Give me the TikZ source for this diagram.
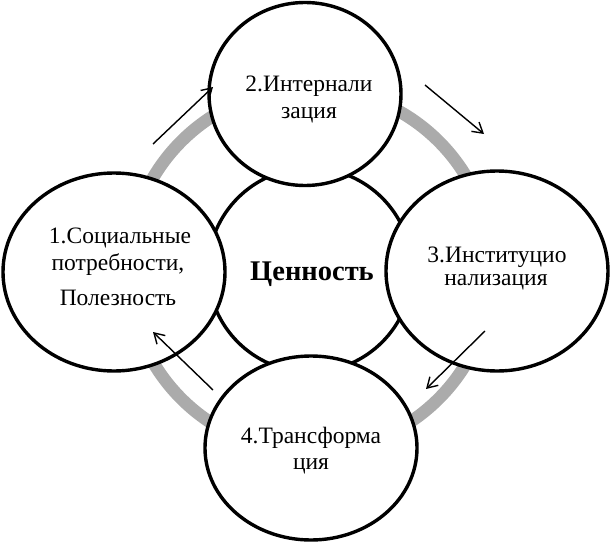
\documentclass[tikz,border=0pt]{standalone}
\usepackage{fontspec}
\setmainfont{Liberation Serif}
\usetikzlibrary{shapes.geometric,arrows.meta}
\begin{document}
\begin{tikzpicture}[x=1pt,y=-1pt,
  oval/.style={draw=black,line width=3.4pt,fill=white,ellipse,inner sep=0pt},
  lbl/.style={anchor=base,inner sep=0pt,font=\fontsize{23.5}{27}\selectfont},
  flow/.style={line width=1.4pt,-{Straight Barb[length=10pt,width=12pt,line width=1.4pt]}}]
\useasboundingbox (0,0) rectangle (611,543);
% grey ring
\draw[line width=12.5pt,color=black!33] (310,270) circle[radius=182];
% centre circle
\node[draw=black,line width=3.4pt,fill=white,circle,minimum size=204pt,inner sep=0pt] (c) at (310,270) {};
% outer ovals
\node[oval,minimum width=192pt,minimum height=183pt] (o2) at (305,94) {};
\node[oval,minimum width=222pt,minimum height=198pt] (o1) at (114,272) {};
\node[oval,minimum width=222pt,minimum height=200pt] (o3) at (497,271) {};
\node[oval,minimum width=212pt,minimum height=184pt] (o4) at (311,448) {};
% texts
\node[lbl] (t2a) at (309,92) {2.Интернали};
\node[lbl] (t2b) at (309,118) {зация};
\node[lbl] (t1a) at (120,243) {1.Социальные};
\node[lbl] (t1b) at (118,270) {потребности,};
\node[lbl] (t1c) at (118,305) {Полезность};
\node[lbl] (t3a) at (497,262) {3.Институцио};
\node[lbl] (t3b) at (496,285) {нализация};
\node[lbl] (t4a) at (311,443) {4.Трансформа};
\node[lbl] (t4b) at (311,469) {ция};
\node[anchor=base,inner sep=0pt,font=\fontsize{28.5}{32}\selectfont\bfseries] (v) at (312,280) {Ценность};
% arrows
\coordinate (a1s) at (153,144); \coordinate (a1e) at (213,87);
\coordinate (a2s) at (425,85);  \coordinate (a2e) at (484,134);
\coordinate (a3s) at (485,331); \coordinate (a3e) at (426,389);
\coordinate (a4s) at (213,390); \coordinate (a4e) at (153,332);
\draw[flow] (a1s) -- (a1e);
\draw[flow] (a2s) -- (a2e);
\draw[flow] (a3s) -- (a3e);
\draw[flow] (a4s) -- (a4e);
\end{tikzpicture}
\end{document}
